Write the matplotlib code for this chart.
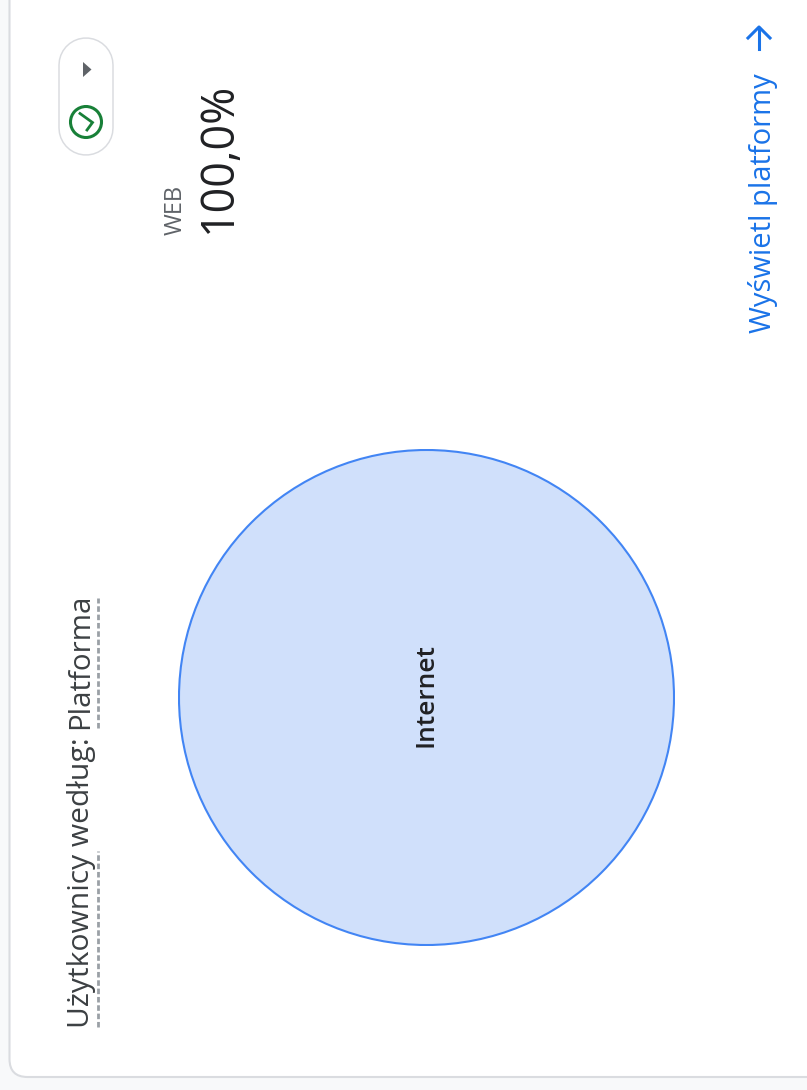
import matplotlib
matplotlib.use("Agg")
import matplotlib.pyplot as plt
from matplotlib.patches import FancyBboxPatch, Circle, Polygon

platforms = ["Internet"]
shares = [100.0]
title_parts = ["Użytkownicy według:", "Platforma"]
top_label = "WEB"
top_value = "100,0%"
link_text = "Wyświetl platformy"

W, H = 807, 1090
FONT = ["Open Sans", "DejaVu Sans"]
fig = plt.figure(figsize=(W / 100, H / 100), dpi=100, facecolor="#f8f9fa")

# overlay in pixel coordinates (y down)
bg = fig.add_axes([0, 0, 1, 1])
bg.set_xlim(0, W)
bg.set_ylim(H, 0)
bg.axis("off")

# card
bg.add_patch(FancyBboxPatch((9.5, -40), W + 60, 1117, boxstyle="round,pad=0,rounding_size=18",
                            fc="white", ec="#dadce0", lw=1.5, zorder=1))

# chip: pill drawn as round-capped strokes (lw in points, 1 px = 0.72 pt)
bg.plot([86, 86], [64.5, 127.5], color="#dadce0", lw=55.5 * 0.72, solid_capstyle="round", zorder=2)
bg.plot([86, 86], [64.5, 127.5], color="white", lw=52.5 * 0.72, solid_capstyle="round", zorder=3)
bg.add_patch(Polygon([(83, 62), (91.5, 69.5), (83, 77)], closed=True, fc="#5f6368", ec="none", zorder=4))
bg.add_patch(Circle((86, 122), 15.5, fc="none", ec="#188038", lw=2.2, zorder=4))
bg.plot([80, 92.5, 87], [113.5, 122.5, 130], color="#188038", lw=2.0, solid_joinstyle="miter", zorder=4)

# top metric
bg.text(176, 235, top_label, rotation=90, ha="center", va="bottom", fontsize=17,
        color="#5f6368", family=FONT, fontweight="medium")
bg.text(219, 233, top_value, rotation=90, ha="center", va="bottom", fontsize=32.3,
        color="#202124", family=FONT)

# link
bg.text(763, 333, link_text, rotation=90, ha="center", va="bottom", fontsize=21,
        color="#1a73e8", family=FONT, fontweight="medium")
bg.plot([759, 759], [49, 28], color="#1a73e8", lw=2.2, zorder=4)
bg.plot([748, 759, 770], [38, 27, 38], color="#1a73e8", lw=2.2, zorder=4)

# title
bg.text(82, 1028, title_parts[0], rotation=90, ha="center", va="bottom", fontsize=21.6,
        color="#3c4043", family=FONT)
bg.text(81, 729, title_parts[1], rotation=90, ha="center", va="bottom", fontsize=21.2,
        color="#3c4043", family=FONT)
for y0, y1 in ((1027, 851), (728, 598)):
    bg.plot([98, 98], [y0, y1], color="#9aa0a6", lw=2, dashes=(2, 1), dash_capstyle="butt", zorder=4)

# bubble
cx, cy, r = 426.5, 697.5, 248.5
pie_ax = fig.add_axes([(cx - r) / W, 1 - (cy + r) / H, 2 * r / W, 2 * r / H])
pie_ax.pie(shares, radius=0.996, startangle=90, colors=["#d0e0fb"],
           wedgeprops={"edgecolor": "none"})
pie_ax.add_patch(Circle((0, 0), 0.996, fc="none", ec="#4285f4", lw=1.5))
pie_ax.set_xlim(-1, 1)
pie_ax.set_ylim(-1, 1)
pie_ax.text(0, 0.008, platforms[0], rotation=90, ha="center", va="center", fontsize=19,
            fontweight="semibold", color="#202124", family=FONT)

fig.savefig("out.png", dpi=100, facecolor=fig.get_facecolor())
